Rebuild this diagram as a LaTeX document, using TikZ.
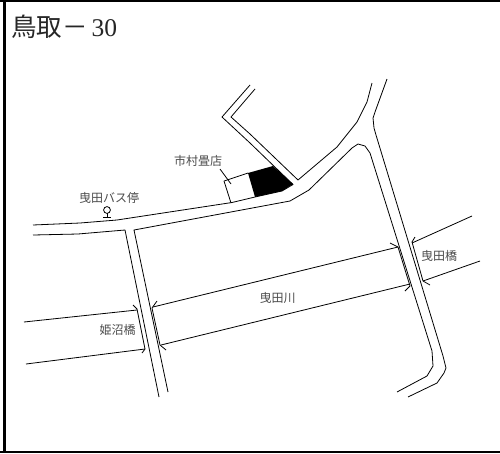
\documentclass[tikz,border=0pt]{standalone}
\usepackage{fontspec}
\newfontfamily\cjk{Noto Sans CJK JP}
\setmainfont{Liberation Serif}
\tikzset{
  road/.style={line width=0.8pt,black,line join=round},
  lab/.style={font=\cjk\fontsize{12}{12}\selectfont,text=black!70,inner sep=0pt,anchor=center},
  edgebar/.style={fill=black,draw=none}
}
\begin{document}
\begin{tikzpicture}[x=1pt,y=-1pt]
\useasboundingbox (0,0) rectangle (500,453);
\fill[white] (0,0) rectangle (500,453);
% frame
\fill[edgebar] (0,0) rectangle (500,2);
\fill[edgebar] (3,0) rectangle (6,453);
\fill[edgebar] (0,451) rectangle (500,453);
% title
\node[inner sep=0pt,anchor=base west,text=black!85] (title) at (11,36) {\fontsize{25.5}{25.5}\selectfont{\cjk 鳥取－}\hspace{4pt}30};
% shop
\fill[black] (248,173) -- (273,166) -- (293,184) -- (282,191) -- (255,197) -- cycle;
\draw[road] (231,203) -- (224,181) -- (248,173);
\draw[road] (220,169) -- (231,184);
% roads
\draw[road] (33,225) -- (80,223) -- (117,220) -- (232,202.5) -- (255,197) -- (282,191) -- (293,184.5) -- (250,143) -- (222,117) -- (250,85);
\draw[road] (255,89) -- (231,117) -- (250,134) -- (298,180) -- (337,147) -- (357,122) -- (367,102) -- (372,83);
\draw[road] (387,79) -- (375,112) -- (373,118) -- (374,128) -- (376,135) -- (443,356) -- (446,368) -- (444,373) -- (437,383) -- (408,397);
\draw[road] (33,235) -- (78,234) -- (125,230) -- (159,397);
\draw[road] (168,392) -- (134,230) -- (290,201) -- (309,190) -- (352,148) -- (358,144) -- (365,146) -- (370,153) -- (432,351) -- (433,366) -- (427,376) -- (397,392);
% river
\draw[road] (24,322) -- (137,310);
\draw[road] (26,364) -- (145,349);
\draw[road] (153,307) -- (398,247);
\draw[road] (161,345) -- (410,284);
\draw[road] (412,243) -- (472,216);
\draw[road] (423,281) -- (480,261);
% bridge rails
\draw[road] (133,305) -- (137,309) -- (145,349) -- (142,353);
\draw[road] (157,301) -- (152,308) -- (160,345) -- (166,350);
\draw[road] (390,243) -- (398,247) -- (410,286) -- (405,291);
\draw[road] (415,237) -- (412,242) -- (423,281) -- (430,285);
% bus stop
\draw[road] (107,210) circle (3.4);
\draw[road] (107,213.4) -- (107,217);
\draw[road] (103,217) -- (111,217);
% labels
\node[lab] (shop) at (198,161) {市村畳店};
\node[lab] (bus) at (109,198) {曳田バス停};
\node[lab] (riv) at (277.5,298) {曳田川};
\node[lab] (brr) at (439,256) {曳田橋};
\node[lab] (brl) at (117.5,330) {姫沼橋};
\end{tikzpicture}
\end{document}
